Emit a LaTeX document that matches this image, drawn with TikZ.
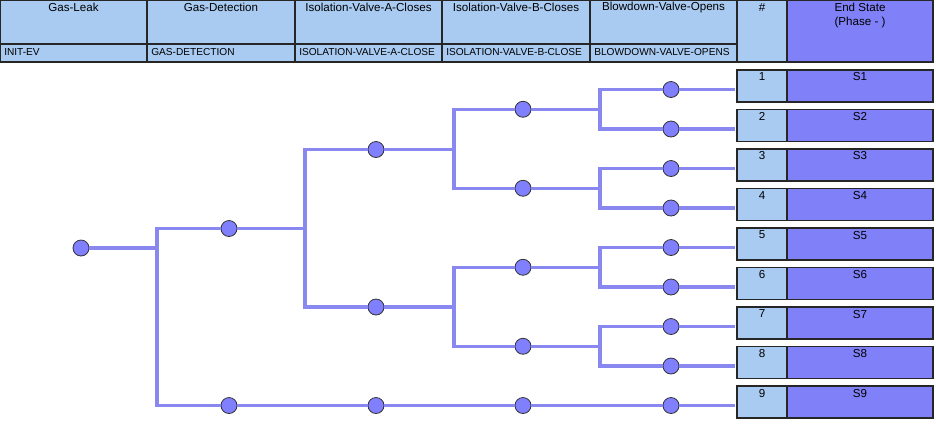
\documentclass[tikz,border=0pt]{standalone}
\usepackage{fontspec}
\setmainfont{Liberation Sans}
\definecolor{hdrblue}{RGB}{169,203,242}
\definecolor{endpurple}{RGB}{128,128,248}
\definecolor{treeline}{RGB}{136,136,240}
\definecolor{ballfill}{RGB}{128,128,255}
\tikzset{
  cell/.style={draw=black!85,line width=0.8pt},
  ball/.style={circle,draw=black!80,fill=ballfill,line width=0.6pt,minimum size=12pt,inner sep=0pt},
  branch/.style={draw=treeline,line width=2.3pt},
  toptxt/.style={font=\fontsize{8.7}{10.5}\selectfont,align=center},
  subtxt/.style={font=\fontsize{7.6}{8}\selectfont,anchor=west,inner sep=0pt}
}
\begin{document}
\begin{tikzpicture}[x=0.75pt,y=-0.75pt]
\useasboundingbox (0,0) rectangle (936,426);

% header
\foreach \xa/\xb in {0/147,147/295,295/442,442/590,590/737}{
  \draw[cell,fill=hdrblue] (\xa,0) rectangle (\xb,44);
  \draw[cell,fill=hdrblue] (\xa,44) rectangle (\xb,62);
}
\draw[cell,fill=hdrblue] (737,0) rectangle (787,62);
\draw[cell,fill=endpurple] (787,0) rectangle (933,62);

\node[toptxt] (h1) at (73.5,7.5) {Gas-Leak};
\node[toptxt] (h2) at (221,7.5) {Gas-Detection};
\node[toptxt] (h3) at (368.5,7.5) {Isolation-Valve-A-Closes};
\node[toptxt] (h4) at (516,7.5) {Isolation-Valve-B-Closes};
\node[toptxt] (h5) at (663.5,7.5) {Blowdown-Valve-Opens};
\node[toptxt] (h6) at (762,7.5) {\#};
\node[toptxt] (h7) at (860,15) {End State\\(Phase - )};

\node[subtxt] (c1) at (4,52.5) {INIT-EV};
\node[subtxt] (c2) at (151,52.5) {GAS-DETECTION};
\node[subtxt] (c3) at (299,52.5) {ISOLATION-VALVE-A-CLOSE};
\node[subtxt] (c4) at (446,52.5) {ISOLATION-VALVE-B-CLOSE};
\node[subtxt] (c5) at (594,52.5) {BLOWDOWN-VALVE-OPENS};

% end states
\foreach \i in {1,...,9}{
  \pgfmathsetmacro\yt{70+(\i-1)*39.5}
  \draw[cell,fill=hdrblue] (737,\yt) rectangle (787,\yt+32);
  \draw[cell,fill=endpurple] (787,\yt) rectangle (933,\yt+32);
  \node[toptxt] (n\i) at (762,\yt+7) {\i};
  \node[toptxt] (s\i) at (860,\yt+7) {S\i};
  \coordinate (e\i) at (735,\yt+19.5);
}

% tree
\node[ball] (gl) at (81,248) {};
\node[ball] (gd1) at (229,228.5) {};
\node[ball] (gd2) at (229,405.5) {};
\node[ball] (ia1) at (376,149.5) {};
\node[ball] (ia2) at (376,307) {};
\node[ball] (ia3) at (376,405.5) {};
\node[ball] (ib1) at (523,109.25) {};
\node[ball] (ib2) at (523,188.25) {};
\node[ball] (ib3) at (523,267.25) {};
\node[ball] (ib4) at (523,346.25) {};
\node[ball] (ib5) at (523,405.5) {};
\foreach \i in {1,...,9}{
  \node[ball] (bd\i) at (671,50+\i*39.5) {};
  \draw[branch] (bd\i) -- (e\i);
}

\coordinate (p0) at (157,248);
\coordinate (p1) at (305,228.5);
\coordinate (p2) at (454,149.5);
\coordinate (p3) at (454,307);
\coordinate (p4) at (600,109.25);
\coordinate (p5) at (600,188.25);
\coordinate (p6) at (600,267.25);
\coordinate (p7) at (600,346.25);

\foreach \a/\p/\b/\c in {gl/p0/gd1/gd2, gd1/p1/ia1/ia2, ia1/p2/ib1/ib2, ia2/p3/ib3/ib4,
  ib1/p4/bd1/bd2, ib2/p5/bd3/bd4, ib3/p6/bd5/bd6, ib4/p7/bd7/bd8}{
  \draw[branch] (\a) -- (\p) |- (\b);
  \draw[branch] (\p) |- (\c);
}
\draw[branch] (gd2) -- (ia3);
\draw[branch] (ia3) -- (ib5);
\draw[branch] (ib5) -- (bd9);
\end{tikzpicture}
\end{document}
